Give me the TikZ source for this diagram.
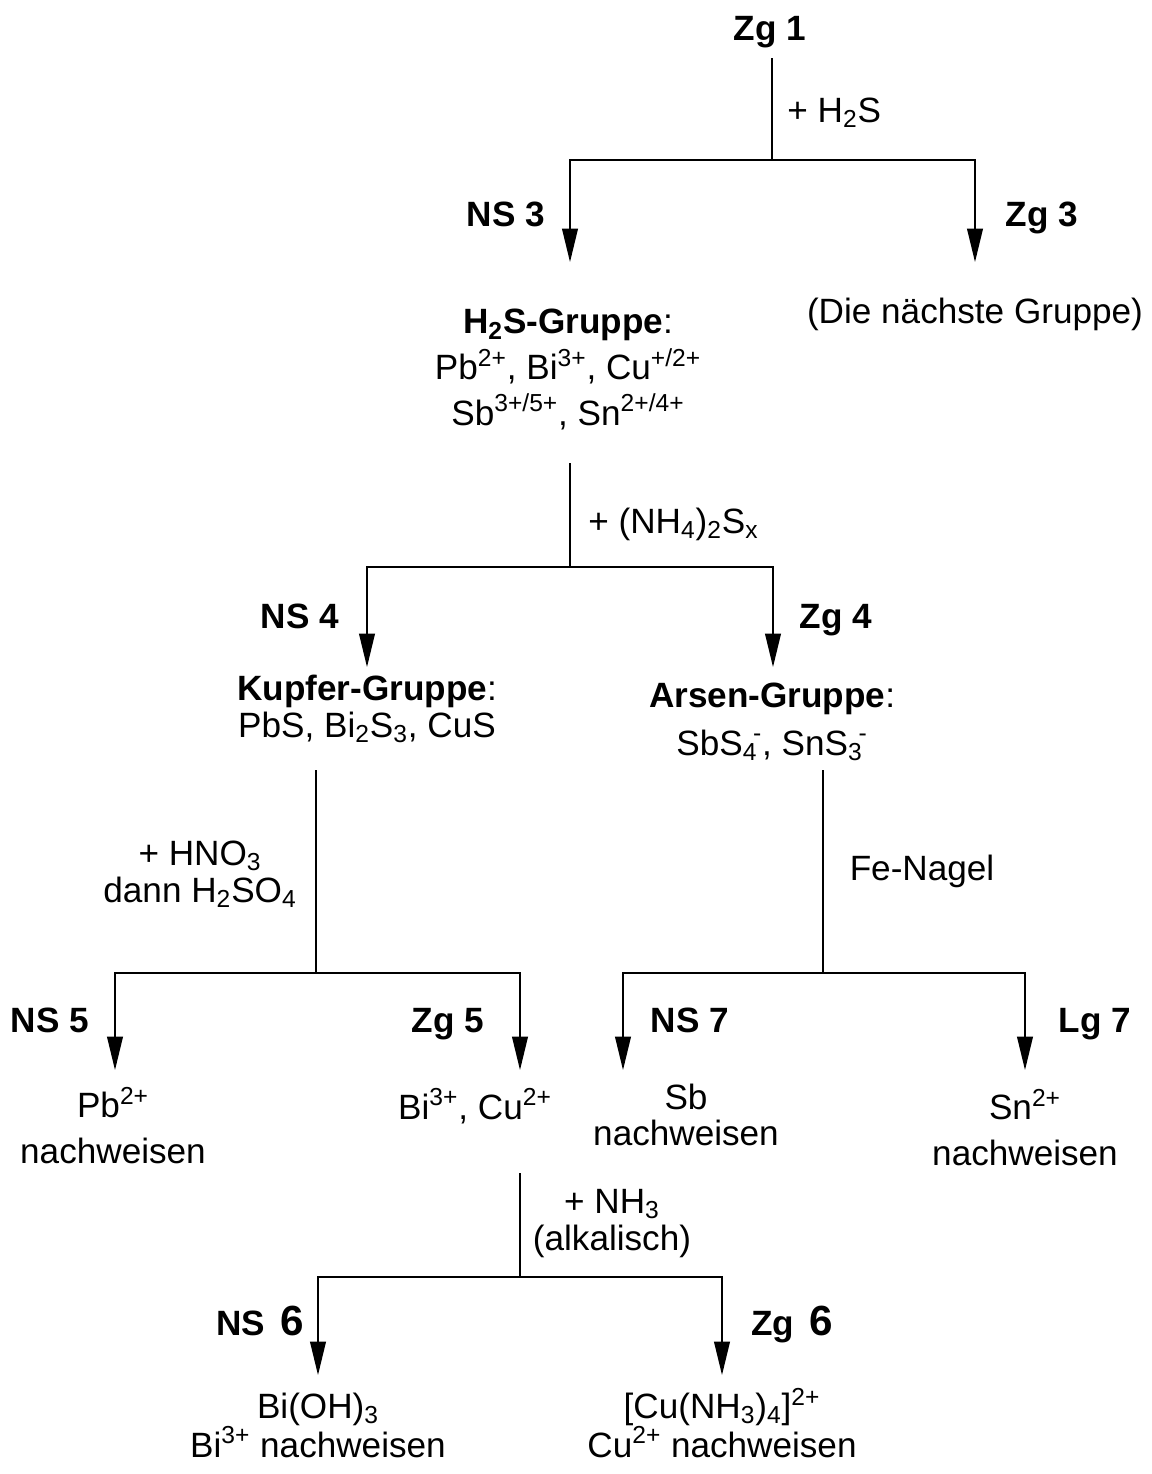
\documentclass[tikz,border=0pt]{standalone}
\usepackage{fontspec}
\setmainfont{Liberation Sans}
\usetikzlibrary{arrows.meta}
\setlength{\lineskiplimit}{-100pt}
\newcommand{\subsup}[2]{\textsubscript{#1}\kern-0.12em\textsuperscript{#2}}
\tikzset{
  txt/.style = {anchor=base, inner sep=0pt, align=center, font=\fontsize{20}{#1}\selectfont},
  txt/.default = 24pt,
  fraction/.style = {anchor=base, inner sep=0pt, font=\fontsize{20}{24}\selectfont\bfseries},
  stem/.style = {line width=0.8pt},
  arr/.style = {stem, -{Triangle[width=9pt,length=19pt]}},
}

\begin{document}
\begin{tikzpicture}[x=0.02cm,y=-0.02cm]
\useasboundingbox (0,0) rectangle (1152,1474);
% multi-line nodes sit on the baseline of their last line
% H2S
\node [fraction] (zg1) at (770,40) {Zg 1};
\coordinate (top1) at (772,58);
\coordinate (fork1) at (772,160);
\coordinate (tip3l) at (570,262);
\coordinate (tip3r) at (975,262);
\node [txt, anchor=base west] (reag1) at (787,122) {+ H\textsubscript{2}S};
\node [fraction] (ns3) at (506,226) {NS 3};
\node [fraction] (zg3) at (1042,226) {Zg 3};
\node [txt=26pt] (h2sgrp) at (568,425) {\textbf{H\textsubscript{2}S-Gruppe}:\\
  Pb\textsuperscript{2+}, Bi\textsuperscript{3+}, Cu\textsuperscript{+/2+}\\
  Sb\textsuperscript{3+/5+}, Sn\textsuperscript{2+/4+}};
\node [txt] (nextgrp) at (975,323) {(Die nächste Gruppe)};
\draw [stem] (top1) -- (fork1);
\draw [arr] (fork1) -| (tip3l);
\draw [arr] (fork1) -| (tip3r);
% (NH4)2Sx
\coordinate (top2) at (570,463);
\coordinate (fork2) at (570,567);
\coordinate (tip4l) at (367,667);
\coordinate (tip4r) at (773,667);
\node [txt, anchor=base west] (reag2) at (588,533) {+ (NH\textsubscript{4})\textsubscript{2}S\textsubscript{x}};
\node [fraction] (ns4) at (300,628) {NS 4};
\node [fraction] (zg4) at (836,628) {Zg 4};
\node [txt=21pt] (kupfer) at (367,737) {\textbf{Kupfer-Gruppe}:\\
  PbS, Bi\textsubscript{2}S\textsubscript{3}, CuS};
\node [txt=27pt] (arsen) at (772,755) {\textbf{Arsen-Gruppe}:\\
  SbS\subsup{4}{-}, SnS\subsup{3}{-}};
\draw [stem] (top2) -- (fork2);
\draw [arr] (fork2) -| (tip4l);
\draw [arr] (fork2) -| (tip4r);
% HNO3 / H2SO4
\coordinate (top3) at (316,770);
\coordinate (fork3) at (316,973);
\coordinate (tip5l) at (115,1070);
\coordinate (tip5r) at (520,1070);
\node [txt=21pt] (reag3) at (200,902) {+ HNO\textsubscript{3}\\ dann H\textsubscript{2}SO\textsubscript{4}};
\node [fraction] (ns5) at (50,1032) {NS 5};
\node [fraction] (zg5) at (448,1032) {Zg 5};
\node [txt=26pt] (pb) at (113,1163) {Pb\textsuperscript{2+}\\ nachweisen};
\node [txt] (bicu) at (475,1119) {Bi\textsuperscript{3+}, Cu\textsuperscript{2+}};
\draw [stem] (top3) -- (fork3);
\draw [arr] (fork3) -| (tip5l);
\draw [arr] (fork3) -| (tip5r);
% Fe-Nagel
\coordinate (top7) at (823,770);
\coordinate (fork7) at (823,973);
\coordinate (tip7l) at (623,1070);
\coordinate (tip7r) at (1025,1070);
\node [txt] (reag7) at (922,880) {Fe-Nagel};
\node [fraction] (ns7) at (690,1032) {NS 7};
\node [fraction] (lg7) at (1095,1032) {Lg 7};
\node [txt=20pt] (sb) at (686,1145) {Sb\\ nachweisen};
\node [txt=26pt] (sn) at (1025,1165) {Sn\textsuperscript{2+}\\ nachweisen};
\draw [stem] (top7) -- (fork7);
\draw [arr] (fork7) -| (tip7l);
\draw [arr] (fork7) -| (tip7r);
% NH3
\coordinate (top6) at (520,1173);
\coordinate (fork6) at (520,1277);
\coordinate (tip6l) at (318,1375);
\coordinate (tip6r) at (722,1375);
\node [txt=21pt] (reag6) at (612,1250) {+ NH\textsubscript{3}\\ (alkalisch)};
\node [fraction] (ns6) at (260,1335) {NS\, {\fontsize{24}{24}\selectfont 6}};
\node [fraction] (zg6) at (792,1335) {Zg\, {\fontsize{24}{24}\selectfont 6}};
\node [txt=22pt] (bioh) at (318,1457) {Bi(OH)\textsubscript{3}\\ Bi\textsuperscript{3+} nachweisen};
\node [txt=22pt] (cuamm) at (722,1457) {[Cu(NH\textsubscript{3})\textsubscript{4}]\textsuperscript{2+}\\ Cu\textsuperscript{2+} nachweisen};
\draw [stem] (top6) -- (fork6);
\draw [arr] (fork6) -| (tip6l);
\draw [arr] (fork6) -| (tip6r);
\end{tikzpicture}
\end{document}
